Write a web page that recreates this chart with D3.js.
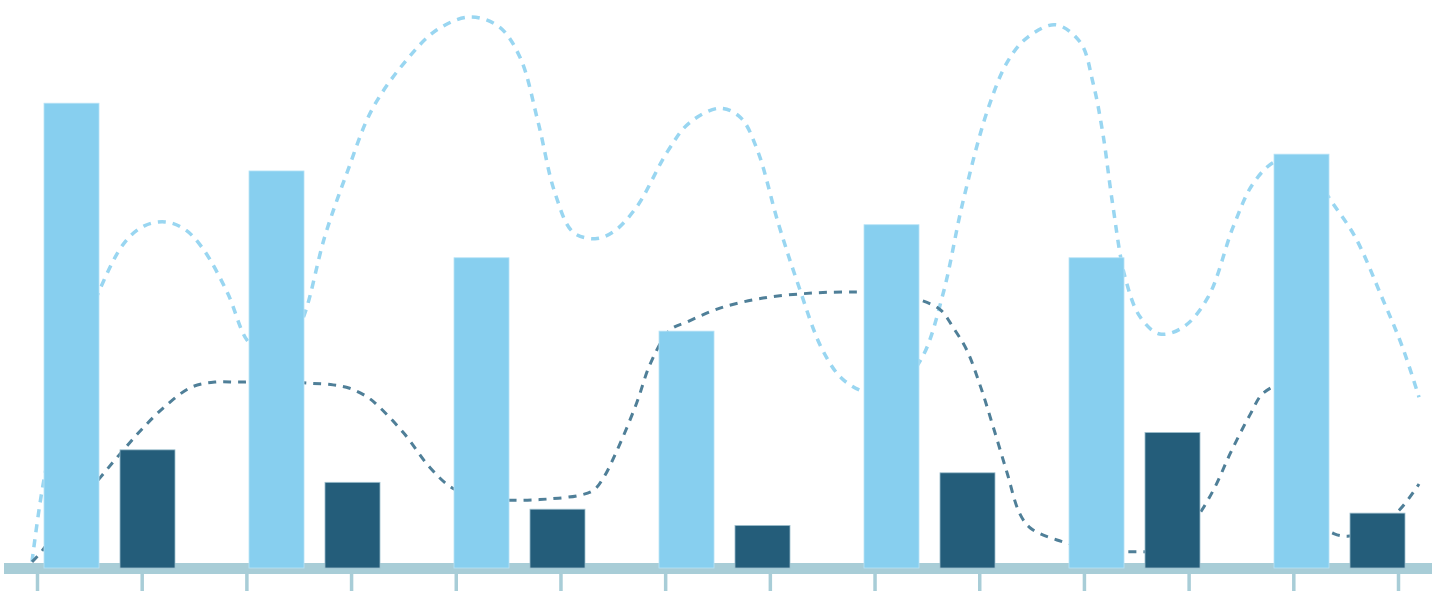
<!DOCTYPE html>
<html>
<head>
<meta charset="utf-8">
<script src="https://cdn.jsdelivr.net/npm/d3@7"></script>
<style>
  html, body { margin: 0; padding: 0; background: #ffffff; }
  svg { display: block; }
</style>
</head>
<body>
<svg id="chart" width="1435" height="609"></svg>
<script>
// ---------------- DATA ----------------
const groups = ["G1", "G2", "G3", "G4", "G5", "G6", "G7"];
const seriesKeys = ["primary", "secondary"];
const primaryValues = [83.0, 70.9, 55.4, 42.3, 61.3, 55.4, 73.9];
const secondaryValues = [21.1, 15.3, 10.5, 7.6, 17.0, 24.2, 9.8];

const tickKeys = ["T1","T2","T3","T4","T5","T6","T7","T8","T9","T10","T11","T12","T13","T14"];

// trend lines: position along the axis (0-100) and value
const lightLineX = [0, 0.9, 2.7, 4.9, 6.7, 8.1, 9.6, 11.0, 12.3, 14.1, 15.5, 16.6, 17.7, 18.8, 19.7, 21.1, 22.7, 24.5, 26.9, 29.2, 31.6, 33.7, 35.2, 36.5, 37.7, 39.0, 40.6, 41.9, 43.6, 45.8, 47.4, 49.6, 51.1, 52.3, 53.8, 55.2, 57.0, 58.5, 60.4, 62.6, 64.2, 65.7, 67.1, 68.9, 70.4, 71.8, 73.8, 75.6, 76.5, 77.2, 77.9, 78.8, 79.9, 81.3, 83.0, 84.8, 86.6, 88.0, 89.5, 90.8, 92.3, 93.7, 95.4, 97.4, 98.8, 100];
const lightLineY = [1.1, 16.3, 35.0, 49.8, 58.2, 61.1, 61.8, 60.5, 57.1, 49.1, 40.7, 38.4, 38.0, 40.7, 45.7, 59.1, 70.5, 81.8, 90.4, 96.1, 98.4, 96.6, 91.1, 79.5, 67.0, 60.0, 58.8, 60.0, 64.5, 74.3, 79.5, 82.1, 80.4, 74.6, 61.6, 50.9, 38.9, 33.6, 31.3, 32.9, 37.7, 49.1, 65.2, 81.8, 90.7, 94.8, 97.0, 93.8, 86.6, 77.7, 65.2, 52.0, 44.8, 41.8, 43.0, 48.4, 60.9, 68.5, 72.4, 73.0, 70.5, 65.4, 59.1, 47.9, 39.5, 30.5];

const darkLineX = [0, 0.6, 2.7, 4.9, 6.6, 8.0, 9.7, 11.5, 13.2, 15.0, 17.5, 20.0, 21.7, 22.9, 24.2, 25.1, 26.8, 28.7, 30.3, 32.3, 34.7, 37.1, 39.5, 40.5, 41.2, 42.2, 43.6, 44.6, 46.0, 47.2, 49.6, 52.7, 56.3, 59.5, 61.9, 64.0, 65.5, 66.4, 67.4, 68.4, 69.3, 70.3, 71.2, 72.0, 73.9, 77.0, 79.9, 81.7, 83.1, 84.2, 85.3, 86.4, 87.8, 88.8, 90.2, 91.9, 93.0, 93.9, 95.0, 96.8, 98.6, 100];
const darkLineY = [1.1, 2.7, 9.5, 16.1, 21.1, 25.0, 29.1, 32.3, 33.2, 33.2, 33.4, 33.0, 32.7, 32.1, 30.5, 28.6, 24.1, 17.9, 14.3, 12.5, 12.1, 12.3, 13.0, 13.9, 16.1, 21.1, 29.5, 36.6, 42.5, 43.9, 46.4, 48.2, 49.1, 49.3, 49.1, 47.9, 46.1, 43.0, 38.9, 32.3, 25.2, 17.0, 9.8, 7.1, 5.0, 3.2, 2.9, 3.2, 6.3, 9.8, 14.5, 20.5, 27.3, 31.3, 32.5, 19.3, 7.7, 6.1, 5.7, 6.8, 10.4, 15.0];

// ---------------- CHART ----------------
const svg = d3.select("#chart");
const baseY = 568;

const y = d3.scaleLinear().domain([0, 100]).range([baseY, 8]);

const x0 = d3.scaleBand().domain(groups).range([44, 1405]).paddingInner(0.361).paddingOuter(0);
const x1 = d3.scaleBand().domain(seriesKeys).range([0, x0.bandwidth()]).paddingInner(0.276).paddingOuter(0);
const xLine = d3.scaleLinear().domain([0, 100]).range([32, 1419]);
const xTick = d3.scalePoint().domain(tickKeys).range([37, 1398]);

const colors = { primary: "#87CFEF", secondary: "#245D7A" };
const strokes = { primary: "#b8e3f6", secondary: "#9dbfcd" };

// axis baseline (thick band)
svg.append("line")
  .attr("x1", 4).attr("x2", 1432)
  .attr("y1", baseY + 0.5).attr("y2", baseY + 0.5)
  .attr("stroke", "#a8cdd7").attr("stroke-width", 11);

// ticks
const axisG = svg.append("g")
  .attr("transform", `translate(0,${baseY + 6})`)
  .call(d3.axisBottom(xTick).tickSize(17).tickSizeOuter(0).tickFormat(() => ""));
axisG.select(".domain").remove();
axisG.selectAll(".tick line").attr("stroke", "#a8cdd7").attr("stroke-width", 3.5);

// lines
const lightData = lightLineX.map((d, i) => [d, lightLineY[i]]);
const darkData = darkLineX.map((d, i) => [d, darkLineY[i]]);
const lineGen = d3.line()
  .x(d => xLine(d[0]))
  .y(d => y(d[1]))
  .curve(d3.curveCatmullRom.alpha(0.5));

svg.append("path")
  .datum(lightData)
  .attr("d", lineGen)
  .attr("fill", "none")
  .attr("stroke", "#99d6f1")
  .attr("stroke-width", 3.5)
  .attr("stroke-dasharray", "8,7");

svg.append("path")
  .datum(darkData)
  .attr("d", lineGen)
  .attr("fill", "none")
  .attr("stroke", "#4f7f98")
  .attr("stroke-width", 3)
  .attr("stroke-dasharray", "8,7");

// bars
const barData = groups.map((g, i) => ({
  group: g,
  values: [
    { key: "primary", value: primaryValues[i] },
    { key: "secondary", value: secondaryValues[i] }
  ]
}));

const gGroups = svg.append("g").selectAll("g")
  .data(barData)
  .join("g")
  .attr("transform", d => `translate(${x0(d.group)},0)`);

gGroups.selectAll("rect")
  .data(d => d.values)
  .join("rect")
  .attr("x", d => x1(d.key))
  .attr("y", d => y(d.value))
  .attr("width", x1.bandwidth())
  .attr("height", d => y(0) - y(d.value))
  .attr("fill", d => colors[d.key])
  .attr("stroke", d => strokes[d.key])
  .attr("stroke-width", 0.8);
</script>
</body>
</html>
